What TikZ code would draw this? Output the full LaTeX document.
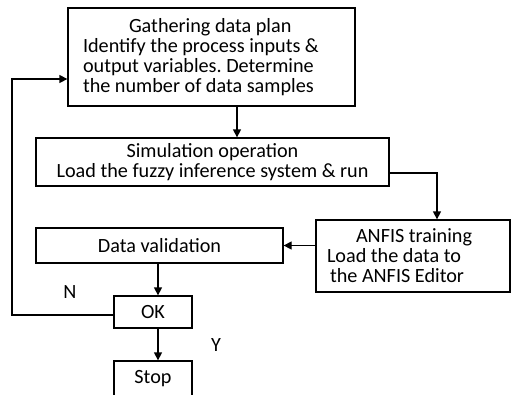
\documentclass[tikz,border=0pt]{standalone}
\usepackage{fontspec}
\setmainfont{Carlito}
\usetikzlibrary{arrows.meta}
\frenchspacing
\begin{document}
\begin{tikzpicture}[x=1pt,y=-1pt,
  box/.style={draw,line width=1.3pt,inner sep=0pt,font=\fontsize{20.2}{20}\selectfont},
  arr/.style={line width=1.3pt,-{Triangle[length=8pt,width=8pt]}},
  lbl/.style={font=\fontsize{20.2}{20}\selectfont,inner sep=0pt}]
\clip (0,0) rectangle (511,394);
\fill[white] (0,0) rectangle (511,394);
\node[box,minimum width=287pt,minimum height=98pt,inner xsep=15pt,text width=257pt,align=flush left] (b1) at (211.5,57)
  {\hspace*{46pt}Gathering data plan\\Identify the process inputs \&\\output variables. Determine\\the number of data samples};
\node[box,minimum width=353pt,minimum height=48pt,align=center] (b2) at (212.5,162)
  {Simulation operation\\Load the fuzzy inference system \& run};
\node[box,minimum width=194pt,minimum height=72pt,inner xsep=11pt,text width=172pt,align=flush left] (b3) at (413,256)
  {\hspace*{29pt}ANFIS training\\Load the data to\\\hspace*{3pt}the ANFIS Editor};
\node[box,minimum width=247pt,minimum height=35pt] (dv) at (159.5,245.5) {Data validation};
\node[box,minimum width=78pt,minimum height=32pt] (ok) at (153,312) {OK};
\node[box,minimum width=78pt,minimum height=35pt] (st) at (153,378.5) {Stop};
\node[lbl] (n) at (70,292) {N};
\node[lbl] (y) at (216,345) {Y};
\coordinate (c1) at (237,0);
\coordinate (c2) at (0,173);
\coordinate (c3) at (437,0);
\coordinate (c4) at (158,0);
\coordinate (c5) at (12,315);
\coordinate (c6) at (12,79);
\draw[arr] (b1.south -| c1) -- (b2.north -| c1);
\draw[arr] (b2.east |- c2) -| (b3.north -| c3);
\draw[arr] (b3.west |- dv) -- (dv.east);
\draw[arr] (dv.south -| c4) -- (ok.north -| c4);
\draw[arr] (ok.south -| c4) -- (st.north -| c4);
\draw[arr] (ok.west |- c5) -- (c5) -- (c6) -- (b1.west |- c6);
\end{tikzpicture}
\end{document}
